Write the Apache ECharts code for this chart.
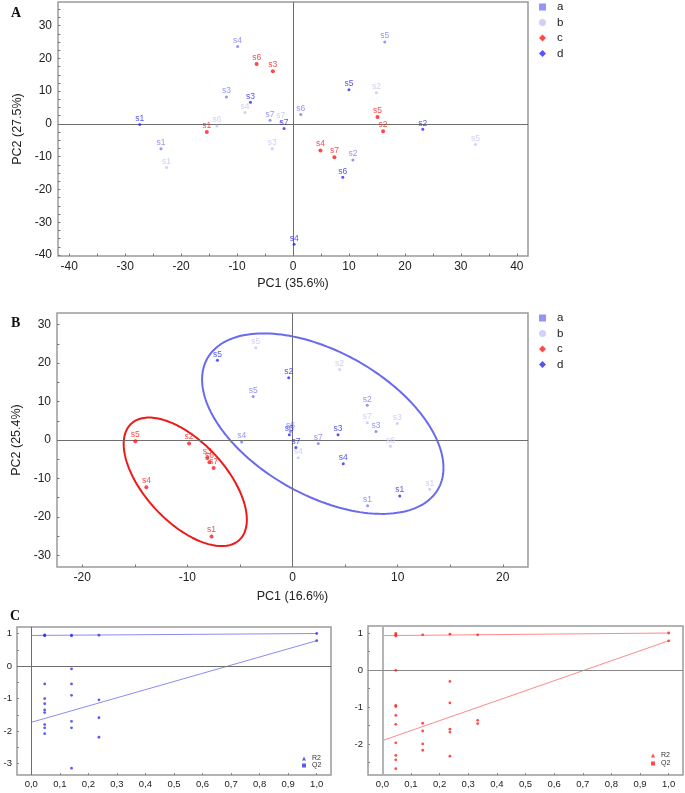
<!DOCTYPE html>
<html><head><meta charset="utf-8">
<script src="https://cdn.jsdelivr.net/npm/echarts@6/dist/echarts.min.js"></script>
<style>html,body{margin:0;padding:0;background:#fff}#c{width:685px;height:793px}</style>
</head><body><div id="c"></div>
<script>
// ---------- Panel A (PCA scores) ----------
const A_a = [[-23.6,-7.6,'s1'],[10.7,-11.0,'s2'],[-11.9,8.2,'s3'],[-9.9,23.6,'s4'],[16.4,25.0,'s5'],[1.4,2.9,'s6'],[-4.1,1.1,'s7']];
const A_b = [[-22.6,-13.3,'s1'],[14.9,9.5,'s2'],[-3.7,-7.6,'s3'],[-8.6,3.5,'s4'],[32.6,-6.3,'s5'],[-13.6,-0.6,'s6'],[-2.2,0.7,'s7']];
const A_c = [[-15.4,-2.5,'s1'],[16.1,-2.2,'s2'],[-3.6,16.1,'s3'],[4.9,-8.1,'s4'],[15.1,2.1,'s5'],[-6.5,18.3,'s6'],[7.4,-10.2,'s7']];
const A_d = [[-27.4,-0.2,'s1'],[23.2,-1.6,'s2'],[-7.6,6.6,'s3'],[0.2,-36.7,'s4'],[10.0,10.4,'s5'],[8.9,-16.3,'s6'],[-1.6,-1.4,'s7']];
const A_xTicks = [-40,-30,-20,-10,0,10,20,30,40];
const A_yTicks = [-40,-30,-20,-10,0,10,20,30];

// ---------- Panel B ----------
const B_a = [[7.14,-17.1,'s1'],[7.11,9.0,'s2'],[7.94,2.2,'s3'],[-4.84,-0.5,'s4'],[-3.74,11.3,'s5'],[-0.2,2.2,'s6'],[2.45,-0.9,'s7']];
const B_b = [[13.05,-12.8,'s1'],[4.48,18.3,'s2'],[9.97,4.3,'s3'],[0.54,-4.6,'s4'],[-3.49,24.0,'s5'],[9.32,-1.6,'s6'],[7.12,4.5,'s7']];
const B_c = [[-7.7,-25.1,'s1'],[-9.84,-0.9,'s2'],[-8.1,-4.7,'s3'],[-13.9,-12.3,'s4'],[-14.95,-0.3,'s5'],[-7.9,-5.8,'s6'],[-7.5,-7.3,'s7']];
const B_d = [[10.2,-14.55,'s1'],[-0.36,16.2,'s2'],[4.33,1.35,'s3'],[4.83,-6.15,'s4'],[-7.14,20.7,'s5'],[-0.3,1.35,'s6'],[0.32,-1.95,'s7']];
const B_xTicks = [-20,-10,0,10,20];
const B_yTicks = [-30,-20,-10,0,10,20,30];
// confidence ellipses: centre, half-extent in x / y, correlation
const B_redCentre = [-10.2,-10.87];
const B_redHalf = [5.86,16.7];
const B_redRho = -0.59;
const B_blueCentre = [2.88,4.25];
const B_blueHalf = [11.48,23.45];
const B_blueRho = -0.49;

// ---------- Panel C (permutation tests) ----------
const C1_R2 = [[0.047,0.96],[0.047,0.94],[0.047,0.93],[0.141,0.95],[0.141,0.93],[0.237,0.95],[1.0,1.0]];
const C1_Q2 = [[0.047,-0.55],[0.047,-1.0],[0.047,-1.16],[0.047,-1.35],[0.047,-1.43],[0.047,-1.8],[0.047,-1.9],[0.047,-2.08],
               [0.141,-0.09],[0.141,-0.55],[0.141,-0.9],[0.141,-1.7],[0.141,-1.9],[0.141,-3.14],
               [0.237,-1.04],[0.237,-1.59],[0.237,-2.19],[1.0,0.78]];
const C1_R2line = [[0,0.94],[1,1.0]];
const C1_Q2line = [[0,-1.73],[1,0.78]];
const C2_R2 = [[0.047,0.99],[0.047,0.95],[0.047,0.92],[0.141,0.95],[0.236,0.97],[0.333,0.95],[1.0,1.0]];
const C2_Q2 = [[0.047,-0.01],[0.047,-0.96],[0.047,-0.99],[0.047,-1.23],[0.047,-1.47],[0.047,-1.97],[0.047,-2.31],[0.047,-2.43],[0.047,-2.67],
               [0.141,-1.44],[0.141,-1.65],[0.141,-2.0],[0.141,-2.17],
               [0.236,-0.31],[0.236,-0.89],[0.236,-1.6],[0.236,-1.68],[0.236,-2.33],
               [0.333,-1.36],[0.333,-1.45],[1.0,0.79]];
const C2_R2line = [[0,0.93],[1,1.0]];
const C2_Q2line = [[0,-1.91],[1,0.79]];
const C_xTicks = [0,0.1,0.2,0.3,0.4,0.5,0.6,0.7,0.8,0.9,1.0];
const C1_yTicks = [-3,-2,-1,0,1];
const C2_yTicks = [-2,-1,0,1];

// ---------- styling ----------
const FONT = '"Liberation Sans", Arial, sans-serif';
const colA = '#7a7af2', colB = '#c4c4f6', colC = '#ff1a1a', colD = '#2a2af0';

function steps(from, to, step){ const r=[]; for(let v=from; v<=to+1e-9; v+=step) r.push(Math.round(v*1000)/1000); return r; }

function axis(gi, min, max, labels, ticks, margin, o){
  return Object.assign({
    type:'value', gridIndex:gi, min:min, max:max, scale:false,
    axisLine:{show:false, onZero:false},
    axisTick:{show:true, inside:true, customValues:ticks, length:2.5, lineStyle:{color:'#777'}},
    axisLabel:{customValues:labels, fontSize:12, color:'#222', fontFamily:FONT, margin:margin},
    splitLine:{show:false}
  }, o || {});
}

function pts(name, data, idx, color, size){
  return {type:'scatter', name:name, xAxisIndex:idx, yAxisIndex:idx, data:data,
    symbol:'circle', symbolSize:size, itemStyle:{color:color}, z:5,
    label:{show:true, position:'top', distance:0, formatter:p=>p.value[2], color:color, fontSize:8.5, fontFamily:FONT},
    emphasis:{disabled:true}, animation:false};
}
function zeroLines(){
  return {silent:true, symbol:'none', animation:false, label:{show:false},
    lineStyle:{color:'#6e6e6e', width:1, type:'solid'}, emphasis:{disabled:true},
    data:[{xAxis:0},{yAxis:0}]};
}
function ellipse(c, h, rho, n){
  const s = Math.sqrt(1-rho*rho), out=[];
  for(let i=0;i<=n;i++){ const t=2*Math.PI*i/n;
    out.push([c[0]+h[0]*Math.cos(t), c[1]+h[1]*(rho*Math.cos(t)+s*Math.sin(t))]); }
  return out;
}
function line(name, data, idx, color, width){
  return {type:'line', name:name, xAxisIndex:idx, yAxisIndex:idx, data:data, showSymbol:false, symbol:'none',
    lineStyle:{color:color, width:width}, silent:true, z:3, animation:false, emphasis:{disabled:true}};
}
function dots(name, data, idx, color, size){
  return {type:'scatter', name:name, xAxisIndex:idx, yAxisIndex:idx, data:data, symbol:'circle', symbolSize:size,
    itemStyle:{color:color}, z:5, animation:false, emphasis:{disabled:true}};
}

const gridBase = {show:true, borderColor:'#9a9a9a', borderWidth:1.5, backgroundColor:'transparent', containLabel:false, outerBoundsMode:'none'};

const sA = pts('a', A_a, 0, colA, 3); sA.markLine = zeroLines();
const sB = pts('a', B_a, 1, colA, 3); sB.markLine = zeroLines();
const c1R = dots('R2', C1_R2, 2, '#3434ee', 2.8); c1R.markLine = zeroLines();
const c2R = dots('R2b', C2_R2, 3, '#ff2020', 2.8);
c2R.markLine = {silent:true, symbol:'none', animation:false, label:{show:false}, emphasis:{disabled:true},
  data:[{xAxis:0, lineStyle:{color:'#b4b4b4', width:2, type:'solid'}},{yAxis:0, lineStyle:{color:'#8a8a8a', width:1, type:'solid'}}]};

const legendText = {fontSize:11.5, color:'#222', fontFamily:FONT, lineHeight:10, padding:[0,0,0,6]};
const abcd = [{name:'a',icon:'rect'},{name:'b',icon:'circle'},{name:'c',icon:'diamond'},{name:'d',icon:'diamond'}];
const cLab = (ticks)=>({customValues:ticks, fontSize:9.5, color:'#222', fontFamily:FONT, margin:4, formatter:v=>v.toFixed(1).replace('.',',')});
const cTick = (ticks)=>({show:true, inside:true, customValues:ticks, length:2, lineStyle:{color:'#888'}});
const nameStyle = {fontSize:12.5, color:'#222', fontFamily:FONT};

const option = {
  backgroundColor:'#fff',
  animation:false,
  grid:[
    Object.assign({left:58, top:2, width:470, height:254}, gridBase),
    Object.assign({left:57, top:313, width:471, height:254}, gridBase),
    Object.assign({left:17, top:627, width:314, height:148}, gridBase),
    Object.assign({left:368, top:626, width:315, height:149}, gridBase)
  ],
  xAxis:[
    axis(0,-42,42,A_xTicks,steps(-40,40,5),5,{name:'PC1 (35.6%)', nameLocation:'middle', nameGap:21, nameTextStyle:nameStyle}),
    axis(1,-22.4,22.4,B_xTicks,steps(-20,20,5),5,{name:'PC1 (16.6%)', nameLocation:'middle', nameGap:23, nameTextStyle:nameStyle}),
    axis(2,-0.05,1.05,C_xTicks,C_xTicks,4,{axisLabel:cLab(C_xTicks), axisTick:cTick(C_xTicks)}),
    axis(3,-0.05,1.05,C_xTicks,C_xTicks,4,{axisLabel:cLab(C_xTicks), axisTick:cTick(C_xTicks)})
  ],
  yAxis:[
    axis(0,-40.3,37.2,A_yTicks,steps(-40,37.5,2.5),6,{name:'PC2 (27.5%)', nameLocation:'middle', nameGap:30, nameTextStyle:nameStyle}),
    axis(1,-33,33,B_yTicks,steps(-30,30,5),6,{name:'PC2 (25.4%)', nameLocation:'middle', nameGap:30, nameTextStyle:nameStyle}),
    axis(2,-3.35,1.2,C1_yTicks,steps(-3,1,0.5),5,{axisLabel:{customValues:C1_yTicks, fontSize:9.5, color:'#222', fontFamily:FONT, margin:5}, axisTick:cTick(steps(-3,1,0.5))}),
    axis(3,-2.84,1.19,C2_yTicks,steps(-2.5,1,0.5),5,{axisLabel:{customValues:C2_yTicks, fontSize:9.5, color:'#222', fontFamily:FONT, margin:5}, axisTick:cTick(steps(-2.5,1,0.5))})
  ],
  legend:[
    {left:539, top:1, orient:'vertical', padding:0, itemWidth:7, itemHeight:7, itemGap:3.5, selectedMode:false, data:abcd, textStyle:legendText},
    {left:539, top:312, orient:'vertical', padding:0, itemWidth:7, itemHeight:7, itemGap:3.5, selectedMode:false, data:abcd, textStyle:legendText},
    {left:302, top:755, orient:'vertical', padding:0, itemWidth:4, itemHeight:4, itemGap:0, selectedMode:false,
      data:[{name:'R2',icon:'triangle'},{name:'Q2',icon:'rect'}], formatter:n=>n.slice(0,2),
      textStyle:{fontSize:7, color:'#333', fontFamily:FONT, lineHeight:6.5, padding:[0,0,0,1]}},
    {left:651, top:752, orient:'vertical', padding:0, itemWidth:4, itemHeight:4, itemGap:1, selectedMode:false,
      data:[{name:'R2b',icon:'triangle'},{name:'Q2b',icon:'rect'}], formatter:n=>n.slice(0,2),
      textStyle:{fontSize:7, color:'#333', fontFamily:FONT, lineHeight:6.5, padding:[0,0,0,1]}}
  ],
  graphic:[
    {type:'text', left:11, top:6, style:{text:'A', font:'bold 14px "Liberation Serif", serif', fill:'#111'}},
    {type:'text', left:11, top:316, style:{text:'B', font:'bold 14px "Liberation Serif", serif', fill:'#111'}},
    {type:'text', left:10, top:609, style:{text:'C', font:'bold 14px "Liberation Serif", serif', fill:'#111'}}
  ],
  series:[
    sA,
    pts('b', A_b, 0, colB, 3),
    pts('c', A_c, 0, colC, 4),
    pts('d', A_d, 0, colD, 3),
    line('ellipseRed', ellipse(B_redCentre, B_redHalf, B_redRho, 180), 1, '#ee1a1a', 2),
    line('ellipseBlue', ellipse(B_blueCentre, B_blueHalf, B_blueRho, 180), 1, '#6a6af0', 2),
    sB,
    pts('b', B_b, 1, colB, 3),
    pts('c', B_c, 1, colC, 4),
    pts('d', B_d, 1, colD, 3),
    line('C1R2line', C1_R2line, 2, '#8c8cf2', 1),
    line('C1Q2line', C1_Q2line, 2, '#8c8cf2', 1),
    c1R,
    dots('Q2', C1_Q2, 2, '#3434ee', 2.8),
    line('C2R2line', C2_R2line, 3, '#ff8a8a', 1),
    line('C2Q2line', C2_Q2line, 3, '#ff8a8a', 1),
    c2R,
    dots('Q2b', C2_Q2, 3, '#ff2020', 2.8)
  ]
};
const chart = echarts.init(document.getElementById('c'), null, {renderer:'canvas'});
chart.setOption(option);
</script></body></html>
